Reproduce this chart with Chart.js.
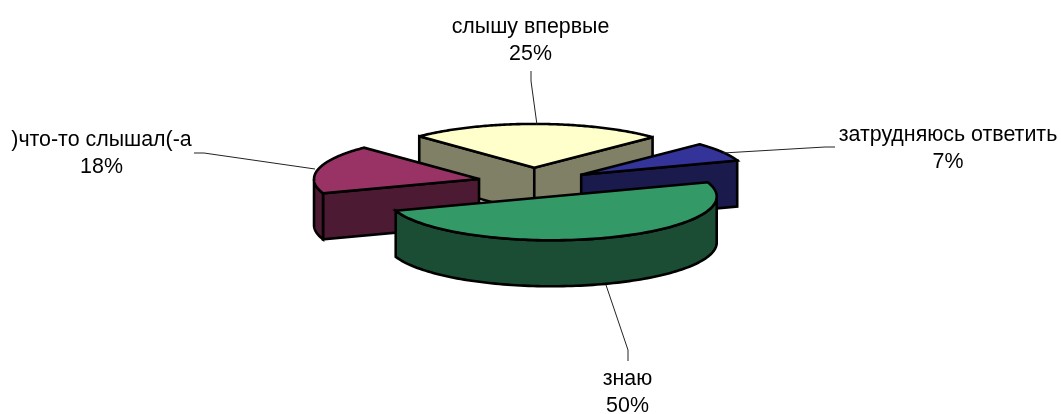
<!DOCTYPE html>
<html><head><meta charset="utf-8">
<style>html,body{margin:0;padding:0;background:#fff}canvas{display:block}</style>
<script src="https://cdn.jsdelivr.net/npm/chart.js@4"></script>
</head><body>
<canvas id="c" width="1061" height="414"></canvas>
<script>
const categories = ['знаю', ')что-то слышал(-а', 'слышу впервые', 'затрудняюсь ответить'];
const percentages = [50, 18, 25, 7];
const topColors = ['#339966', '#993366', '#FFFFCC', '#333399'];
const sideColors = ['#1A4D33', '#4D1A33', '#808066', '#1A1A4D'];

const FLATTEN = 0.265, DEPTH = 46, EXPLODE = 56, RADIUS = 165;
const FONT = '21.4px "Liberation Sans", Arial, sans-serif';
// label centre x, first baseline y; leader polyline
const labelBoxes = [
  {x: 627.5, y: 385, leader: [[628, 361], [628, 350], [606, 285]]},
  {x: 101.5, y: 146, leader: [[194, 153], [204, 153], [315, 169]]},
  {x: 530.5, y: 33,  leader: [[531, 71], [531, 81], [537, 125]]},
  {x: 948,   y: 141, leader: [[835, 147], [825, 147], [723, 153]]}
];

const pie3d = {
  id: 'pie3d',
  beforeDatasetsDraw(chart) {
    const ctx = chart.ctx;
    const meta = chart.getDatasetMeta(0);
    const slices = meta.data.map((arc, i) => {
      const p = arc.getProps(['x', 'y', 'startAngle', 'endAngle', 'outerRadius'], true);
      const mid = (p.startAngle + p.endAngle) / 2;
      const off = arc.options.offset;
      return {i, s: p.startAngle, e: p.endAngle, r: p.outerRadius,
        u0: p.x + Math.cos(mid) * off, v0: Math.sin(mid) * off, y0: p.y, mid};
    }).sort((a, b) => a.v0 - b.v0);
    const pt = (s, a, h) => [s.u0 + s.r * Math.cos(a), s.y0 + FLATTEN * (s.v0 + s.r * Math.sin(a)) + h];
    const apex = (s, h) => [s.u0, s.y0 + FLATTEN * s.v0 + h];
    const poly = (pts, fill) => {
      ctx.beginPath();
      pts.forEach((q, n) => n ? ctx.lineTo(q[0], q[1]) : ctx.moveTo(q[0], q[1]));
      ctx.closePath();
      ctx.fillStyle = fill;
      ctx.fill();
      ctx.stroke();
    };
    ctx.save();
    ctx.strokeStyle = '#000';
    ctx.lineWidth = 2.6;
    ctx.lineJoin = 'miter';
    ctx.miterLimit = 3;
    for (const s of slices) {
      const side = sideColors[s.i];
      const faces = [[s.s, Math.sin(s.s - Math.PI / 2)], [s.e, Math.sin(s.e + Math.PI / 2)]];
      for (const [a, facing] of faces) {
        if (facing > 0) poly([apex(s, 0), pt(s, a, 0), pt(s, a, DEPTH), apex(s, DEPTH)], side);
      }
      // outer wall: the part of the rim that faces the viewer
      const front = [], N = 120;
      for (let n = 0; n <= N; n++) {
        const a = s.s + (s.e - s.s) * n / N;
        if (Math.sin(a) > 0) front.push(a);
      }
      if (front.length > 1) {
        const upper = front.map(a => pt(s, a, 0));
        const lower = front.slice().reverse().map(a => pt(s, a, DEPTH));
        poly(upper.concat(lower), side);
      }
      const rim = [apex(s, 0)];
      for (let n = 0; n <= N; n++) rim.push(pt(s, s.s + (s.e - s.s) * n / N, 0));
      poly(rim, topColors[s.i]);
    }
    ctx.restore();
    return false;
  },
  afterDraw(chart) {
    const ctx = chart.ctx;
    ctx.save();
    ctx.strokeStyle = '#222';
    ctx.lineWidth = 1;
    ctx.font = FONT;
    ctx.fillStyle = '#000';
    ctx.textAlign = 'center';
    ctx.textBaseline = 'alphabetic';
    categories.forEach((name, i) => {
      const b = labelBoxes[i];
      ctx.fillText(name, b.x, b.y);
      ctx.fillText(percentages[i] + '%', b.x, b.y + 27);
      ctx.beginPath();
      b.leader.forEach((q, n) => n ? ctx.lineTo(q[0], q[1]) : ctx.moveTo(q[0], q[1]));
      ctx.stroke();
    });
    ctx.restore();
  }
};

new Chart(document.getElementById('c'), {
  type: 'pie',
  data: {
    labels: categories,
    datasets: [{
      data: percentages,
      backgroundColor: topColors,
      borderColor: '#000',
      borderWidth: 2,
      offset: EXPLODE,
      hoverOffset: 0
    }]
  },
  options: {
    responsive: false,
    animation: false,
    rotation: 71,
    radius: RADIUS,
    layout: {padding: {left: 6, bottom: 49}},
    events: [],
    plugins: {legend: {display: false}, tooltip: {enabled: false}}
  },
  plugins: [pie3d]
});
</script>
</body></html>
